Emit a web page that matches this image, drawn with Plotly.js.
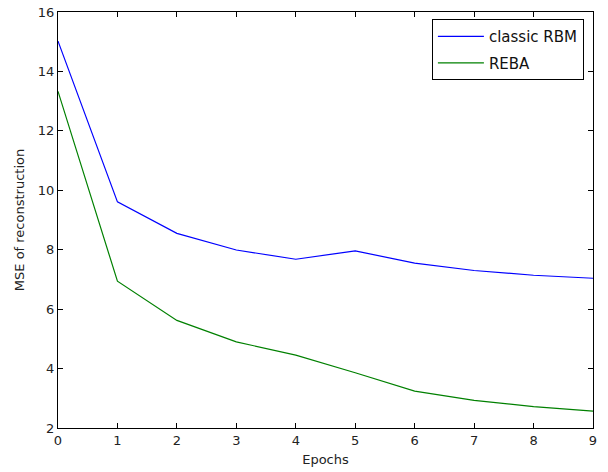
<!DOCTYPE html>
<html>
<head>
<meta charset="utf-8">
<script src="https://cdn.plot.ly/plotly-3.0.1.min.js"></script>
<style>html,body{margin:0;padding:0;background:#fff;}#chart{width:608px;height:472px;}</style>
</head>
<body>
<div id="chart"></div>
<script>
const epochs = [0, 1, 2, 3, 4, 5, 6, 7, 8, 9];
const classicRBM = [15.02, 9.61, 8.55, 7.99, 7.68, 7.96, 7.55, 7.30, 7.14, 7.04];
const reba = [13.33, 6.94, 5.62, 4.90, 4.45, 3.86, 3.24, 2.93, 2.72, 2.57];
const xTicks = [0, 1, 2, 3, 4, 5, 6, 7, 8, 9];
const yTicks = [2, 4, 6, 8, 10, 12, 14, 16];

const font = {family: 'DejaVu Sans, sans-serif', size: 13, color: '#222'};

const traces = [
  {x: epochs, y: classicRBM, name: 'classic RBM', legendgroup: 'a', mode: 'lines', line: {color: '#0000ff', width: 1.2}},
  {x: epochs, y: reba, name: 'REBA', legendgroup: 'b', mode: 'lines', line: {color: '#008000', width: 1.2}}
];

const axisCommon = {
  showline: true, linecolor: '#000', linewidth: 1.2, mirror: 'ticks',
  ticks: 'inside', ticklen: 5, tickwidth: 1, tickcolor: '#000',
  showgrid: false, zeroline: false, tickfont: font
};

const layout = {
  width: 608, height: 472,
  margin: {l: 58, r: 15, t: 12, b: 44},
  paper_bgcolor: '#fff', plot_bgcolor: '#fff',
  font: font,
  showlegend: true,
  legend: {
    x: 0.983, y: 0.983, xanchor: 'right', yanchor: 'top',
    bordercolor: '#000', borderwidth: 1, bgcolor: '#fff',
    font: {family: 'DejaVu Sans, sans-serif', size: 15, color: '#111'},
    itemwidth: 46,
    tracegroupgap: 4
  },
  xaxis: Object.assign({}, axisCommon, {
    range: [0, 9], tickvals: xTicks, ticktext: xTicks.map(String),
    title: {text: 'Epochs', font: {family: 'DejaVu Sans, sans-serif', size: 13, color: '#222'}, standoff: 8}
  }),
  yaxis: Object.assign({}, axisCommon, {
    range: [2, 16], tickvals: yTicks, ticktext: yTicks.map(String),
    title: {text: 'MSE of reconstruction', font: {family: 'DejaVu Sans, sans-serif', size: 13, color: '#222'}, standoff: 10}
  })
};

Plotly.newPlot('chart', traces, layout, {displayModeBar: false, staticPlot: true});
</script>
</body>
</html>
